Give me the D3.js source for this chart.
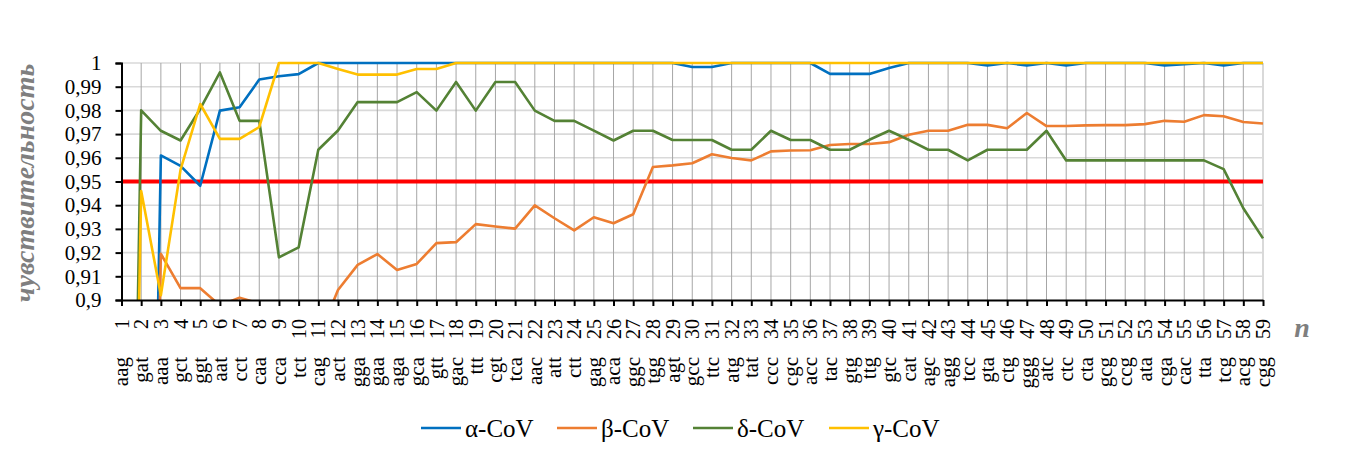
<!DOCTYPE html>
<html>
<head>
<meta charset="utf-8">
<script src="https://cdn.jsdelivr.net/npm/d3@7/dist/d3.min.js"></script>
<style>
  body { margin: 0; background: #fff; }
  text { font-family: "Liberation Serif", "Times New Roman", serif; }
</style>
</head>
<body>
<div id="chart"></div>
<script>
// categories (position number and codon)
const catNumbers = [1, 2, 3, 4, 5, 6, 7, 8, 9, 10, 11, 12, 13, 14, 15, 16, 17, 18, 19, 20,
  21, 22, 23, 24, 25, 26, 27, 28, 29, 30, 31, 32, 33, 34, 35, 36, 37, 38, 39, 40,
  41, 42, 43, 44, 45, 46, 47, 48, 49, 50, 51, 52, 53, 54, 55, 56, 57, 58, 59];
const codons = ["aag", "gat", "aaa", "gct", "ggt", "aat", "cct", "caa", "cca", "tct",
  "cag", "act", "gga", "gaa", "aga", "gca", "gtt", "gac", "ttt", "cgt",
  "tca", "aac", "att", "ctt", "gag", "aca", "ggc", "tgg", "agt", "gcc",
  "ttc", "atg", "tat", "ccc", "cgc", "acc", "tac", "gtg", "ttg", "gtc",
  "cat", "agc", "agg", "tcc", "gta", "ctg", "ggg", "atc", "ctc", "cta",
  "gcg", "ccg", "ata", "cga", "cac", "tta", "tcg", "acg", "cgg"];

// sensitivity values (values below 0.9 fall outside the plot)
const alphaCoV = [0.50, 0.51, 0.961, 0.9566, 0.9482, 0.9799, 0.9813, 0.993, 0.9944, 0.9953,
  1, 1, 1, 1, 1, 1, 1, 1, 1, 1,
  1, 1, 1, 1, 1, 1, 1, 1, 1, 0.9983,
  0.9983, 1, 1, 1, 1, 1, 0.9954, 0.9954, 0.9954, 0.9979,
  1, 1, 1, 1, 0.999, 1, 0.999, 1, 0.999, 1,
  1, 1, 1, 0.999, 0.9995, 1, 0.999, 1, 1];
const betaCoV = [0.50, 0.50, 0.9195, 0.905, 0.905, 0.8977, 0.901, 0.8985, 0.89, 0.886,
  0.884, 0.9042, 0.9148, 0.9194, 0.9127, 0.9152, 0.924, 0.9244, 0.932, 0.931,
  0.9301, 0.9399, 0.9345, 0.9294, 0.9349, 0.9324, 0.9362, 0.9561, 0.9568, 0.9577,
  0.9615, 0.9599, 0.9589, 0.9627, 0.9631, 0.9632, 0.9654, 0.9658, 0.9658, 0.9666,
  0.9697, 0.9714, 0.9714, 0.9739, 0.9739, 0.9725, 0.9789, 0.9734, 0.9734, 0.9737,
  0.9738, 0.9738, 0.9742, 0.9756, 0.9752, 0.978, 0.9775, 0.9751, 0.9745];
const deltaCoV = [0.50, 0.98, 0.9714, 0.9673, 0.9806, 0.996, 0.9756, 0.9756, 0.918, 0.9222,
  0.9634, 0.9715, 0.9835, 0.9835, 0.9835, 0.9877, 0.9799, 0.992, 0.9799, 0.992,
  0.992, 0.9799, 0.9756, 0.9756, 0.9715, 0.9673, 0.9714, 0.9714, 0.9675, 0.9675,
  0.9675, 0.9634, 0.9634, 0.9714, 0.9675, 0.9675, 0.9634, 0.9634, 0.9676, 0.9714,
  0.9676, 0.9634, 0.9634, 0.9589, 0.9634, 0.9634, 0.9634, 0.9714, 0.9589, 0.9589,
  0.9589, 0.9589, 0.9589, 0.9589, 0.9589, 0.9589, 0.9552, 0.9387, 0.926];
const gammaCoV = [0.50, 0.946, 0.902, 0.955, 0.9827, 0.968, 0.968, 0.973, 1, 1,
  1, 0.9975, 0.9951, 0.9951, 0.9951, 0.9975, 0.9975, 1, 1, 1,
  1, 1, 1, 1, 1, 1, 1, 1, 1, 1,
  1, 1, 1, 1, 1, 1, 1, 1, 1, 1,
  1, 1, 1, 1, 1, 1, 1, 1, 1, 1,
  1, 1, 1, 1, 1, 1, 1, 1, 1];

const seriesNames = ["α-CoV", "β-CoV", "δ-CoV", "γ-CoV"];
const seriesColors = ["#0070c0", "#ed7d31", "#548235", "#ffc000"];
const threshold = 0.95;
const yTicks = [0.9, 0.91, 0.92, 0.93, 0.94, 0.95, 0.96, 0.97, 0.98, 0.99, 1];

const series = [alphaCoV, betaCoV, deltaCoV, gammaCoV];

const width = 1372, height = 449;
const plotLeft = 121.5, plotRight = 1263, plotTop = 63, plotBottom = 300;
const serif = "'Liberation Serif', 'Times New Roman', serif";

const svg = d3.select("#chart")
  .append("svg")
  .attr("width", width)
  .attr("height", height);

const x = d3.scalePoint()
  .domain(catNumbers)
  .range([plotLeft, plotRight]);

const y = d3.scaleLinear()
  .domain([0.9, 1])
  .range([plotBottom, plotTop]);

// horizontal grid
svg.append("g")
  .selectAll("line")
  .data(yTicks.filter(d => d > 0.9))
  .join("line")
  .attr("x1", plotLeft).attr("x2", plotRight)
  .attr("y1", d => y(d)).attr("y2", d => y(d))
  .attr("stroke", "#d9d9d9")
  .attr("stroke-width", 1.6);

// vertical grid
svg.append("g")
  .selectAll("line")
  .data(catNumbers.slice(1))
  .join("line")
  .attr("x1", d => x(d)).attr("x2", d => x(d))
  .attr("y1", plotTop).attr("y2", plotBottom)
  .attr("stroke", d => d === 59 ? "#d9d9d9" : "#a6a6a6")
  .attr("stroke-width", d => d === 59 ? 2 : 1);

// clip the lines to the plot area
svg.append("defs").append("clipPath")
  .attr("id", "plotClip")
  .append("rect")
  .attr("x", plotLeft).attr("y", plotTop - 10)
  .attr("width", plotRight - plotLeft + 4)
  .attr("height", plotBottom - plotTop + 10);

// red threshold line
svg.append("line")
  .attr("x1", plotLeft).attr("x2", plotRight)
  .attr("y1", y(threshold)).attr("y2", y(threshold))
  .attr("stroke", "#ff0000")
  .attr("stroke-width", 4);

const line = d3.line()
  .x((d, i) => x(catNumbers[i]))
  .y(d => y(d));

svg.append("g")
  .attr("clip-path", "url(#plotClip)")
  .selectAll("path")
  .data(series)
  .join("path")
  .attr("d", line)
  .attr("fill", "none")
  .attr("stroke", (d, i) => seriesColors[i])
  .attr("stroke-width", 2.6)
  .attr("stroke-linejoin", "round");

// y axis
const yAxis = svg.append("g")
  .attr("transform", `translate(${plotLeft},0)`)
  .call(d3.axisLeft(y)
    .tickValues(yTicks)
    .tickSize(6)
    .tickPadding(14)
    .tickFormat(d => String(+d.toFixed(2)).replace(".", ",")));
yAxis.select(".domain").attr("stroke", "#000").attr("stroke-width", 2);
yAxis.selectAll(".tick line").attr("stroke", "#000").attr("stroke-width", 2);
yAxis.selectAll("text")
  .style("font-size", "21px")
  .attr("fill", "#000")
  .style("font-family", serif);

// x axis with rotated numbers
const xAxis = svg.append("g")
  .attr("transform", `translate(0,${plotBottom})`)
  .call(d3.axisBottom(x).tickSize(6).tickSizeOuter(0));
xAxis.select(".domain").attr("stroke", "#000").attr("stroke-width", 2);
xAxis.selectAll(".tick line").attr("stroke", "#000").attr("stroke-width", 2);
xAxis.selectAll("text")
  .attr("transform", "rotate(-90)")
  .attr("text-anchor", "end")
  .attr("x", -19)
  .attr("y", 0)
  .attr("dy", "0.33em")
  .attr("fill", "#000")
  .style("font-size", "20px")
  .style("font-family", serif);

// codon labels
svg.append("g")
  .selectAll("text")
  .data(codons)
  .join("text")
  .attr("transform", (d, i) => `translate(${x(catNumbers[i])},357) rotate(-90)`)
  .attr("text-anchor", "end")
  .attr("dy", "0.33em")
  .style("font-size", "21px")
  .style("font-family", serif)
  .text(d => d);

// axis titles
svg.append("text")
  .attr("transform", `translate(34,183) rotate(-90)`)
  .attr("text-anchor", "middle")
  .style("font-size", "28px")
  .style("font-weight", "bold")
  .style("font-style", "italic")
  .style("font-family", serif)
  .attr("fill", "#7f7f7f")
  .text("чувствительность");

svg.append("text")
  .attr("x", 1302)
  .attr("y", 337)
  .attr("text-anchor", "middle")
  .style("font-size", "28px")
  .style("font-weight", "bold")
  .style("font-style", "italic")
  .style("font-family", serif)
  .attr("fill", "#7f7f7f")
  .text("n");

// legend
const legend = svg.append("g")
  .selectAll("g")
  .data(seriesNames)
  .join("g")
  .attr("transform", (d, i) => `translate(${421 + i * 136},428)`);

legend.append("line")
  .attr("x1", 0).attr("x2", 40)
  .attr("y1", 0).attr("y2", 0)
  .attr("stroke", (d, i) => seriesColors[i])
  .attr("stroke-width", 2.6);

legend.append("text")
  .attr("x", 44)
  .attr("y", 0)
  .attr("dy", "0.35em")
  .style("font-size", "25px")
  .style("font-family", serif)
  .text(d => d);
</script>
</body>
</html>
